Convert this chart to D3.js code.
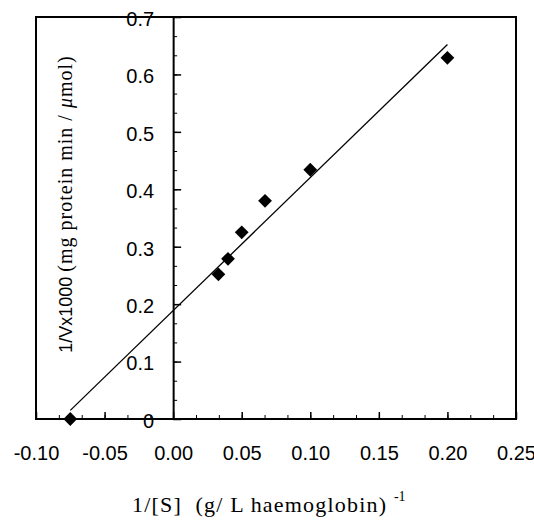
<!DOCTYPE html>
<html>
  <head>
    <meta charset="utf-8">
    <title>Lineweaver-Burk plot</title>
    <script src="https://d3js.org/d3.v7.min.js"></script>
    <style>
      body { margin: 0; background: #fff; }
      .tick text { font-family: "Liberation Sans", Arial, sans-serif; font-size: 20px; fill: #000; }
      .axis path, .axis line { stroke: #000; }
    </style>
  </head>
  <body>
    <script>
      // measured points: 1/[S] vs 1/V x 1000
      var invS = [-0.075, 0.033, 0.040, 0.050, 0.067, 0.100, 0.200];
      var invV = [0.000, 0.252, 0.279, 0.325, 0.380, 0.434, 0.629];

      // end points of the fitted line
      var fitX = [-0.075, 0.200];
      var fitY = [0.015, 0.652];

      var xTicks = [-0.10, -0.05, 0.00, 0.05, 0.10, 0.15, 0.20, 0.25];
      var yTicks = [0, 0.1, 0.2, 0.3, 0.4, 0.5, 0.6, 0.7];

      var svg = d3.select("body").append("svg")
        .attr("width",  534)
        .attr("height", 522);

      var xScale = d3.scaleLinear().domain([-0.10, 0.25]).range([36, 516]);
      var yScale = d3.scaleLinear().domain([0, 0.7]).range([419, 17]);

      // minor ticks at thirds of each labelled step
      var xMinor = d3.range(0, 22).map(function(i) { return -0.10 + i * 0.05 / 3; });
      var yMinor = d3.range(0, 22).map(function(i) { return i * 0.1 / 3; });

      // plain hyphen for negatives, as in the original
      function fmtX(d) { return d3.format(".2f")(d).replace("\u2212", "-"); }

      // plot frame
      svg.append("rect")
        .attr("x", xScale(-0.10))
        .attr("y", yScale(0.7))
        .attr("width",  xScale(0.25) - xScale(-0.10))
        .attr("height", yScale(0) - yScale(0.7))
        .attr("fill", "none")
        .attr("stroke", "#000")
        .attr("stroke-width", 2);

      // x axis (ticks pointing up, labels below)
      svg.append("g")
        .attr("class", "axis")
        .attr("transform", "translate(0," + yScale(0) + ")")
        .call(d3.axisBottom(xScale).tickValues(xMinor).tickSize(-4).tickFormat(""))
        .call(function(g) { g.select(".domain").remove(); });

      svg.append("g")
        .attr("class", "axis")
        .attr("transform", "translate(0," + yScale(0) + ")")
        .call(d3.axisBottom(xScale).tickValues(xTicks).tickSize(-7).tickPadding(27)
          .tickFormat(fmtX))
        .call(function(g) { g.select(".domain").remove(); })
        .selectAll("line").attr("stroke-width", 1.5);

      // y axis sits on x = 0, ticks to the right, labels to the left
      svg.append("g")
        .attr("class", "axis")
        .attr("transform", "translate(" + xScale(0) + ",0)")
        .call(d3.axisLeft(yScale).tickValues(yMinor).tickSize(-4).tickFormat(""))
        .call(function(g) { g.select(".domain").remove(); });

      var yAxis = svg.append("g")
        .attr("class", "axis")
        .attr("transform", "translate(" + xScale(0) + ",0)")
        .call(d3.axisLeft(yScale).tickValues(yTicks).tickSize(-8).tickSizeOuter(0).tickPadding(19)
          .tickFormat(function(d) { return d === 0 ? "0" : d3.format(".1f")(d); }));
      yAxis.select(".domain").attr("stroke-width", 2);
      yAxis.selectAll("line").attr("stroke-width", 1.5);
      yAxis.selectAll("text").attr("dy", "0.42em");

      // fitted line
      var line = d3.line()
        .x(function(d) { return xScale(d[0]); })
        .y(function(d) { return yScale(d[1]); });

      svg.append("path")
        .datum(d3.zip(fitX, fitY))
        .attr("d", line)
        .attr("fill", "none")
        .attr("stroke", "#000")
        .attr("stroke-width", 1.3);

      // diamonds
      svg.selectAll(".pt")
        .data(d3.zip(invS, invV))
        .enter().append("path")
          .attr("class", "pt")
          .attr("d", d3.symbol().type(d3.symbolSquare).size(95))
          .attr("transform", function(d) {
            return "translate(" + xScale(d[0]) + "," + yScale(d[1]) + ") rotate(45)";
          })
          .attr("fill", "#000");

      // axis titles
      var xt = svg.append("text")
        .attr("x", 132)
        .attr("y", 512)
        .attr("font-family", "'Liberation Serif', 'Times New Roman', serif")
        .attr("font-size", 22)
        .attr("xml:space", "preserve")
        .style("white-space", "pre");
      xt.append("tspan").attr("letter-spacing", 1.2).text("1/[S]  (g/ L haemoglobin) ");
      xt.append("tspan").attr("font-size", 14).attr("dy", -11).text("-1");

      var yt = svg.append("text")
        .attr("transform", "translate(72,204) rotate(-90)")
        .attr("text-anchor", "middle")
        .attr("font-family", "'Liberation Serif', 'Times New Roman', serif")
        .attr("font-size", 20);
      yt.append("tspan")
        .attr("font-family", "'Liberation Sans', Arial, sans-serif")
        .attr("font-size", 18)
        .text("1/Vx1000 ");
      yt.append("tspan").attr("letter-spacing", 1).text("(mg protein min / ");
      yt.append("tspan").attr("letter-spacing", 1).attr("font-style", "italic").text("μ");
      yt.append("tspan").attr("letter-spacing", 1).text("mol)");
    </script>
  </body>
</html>
